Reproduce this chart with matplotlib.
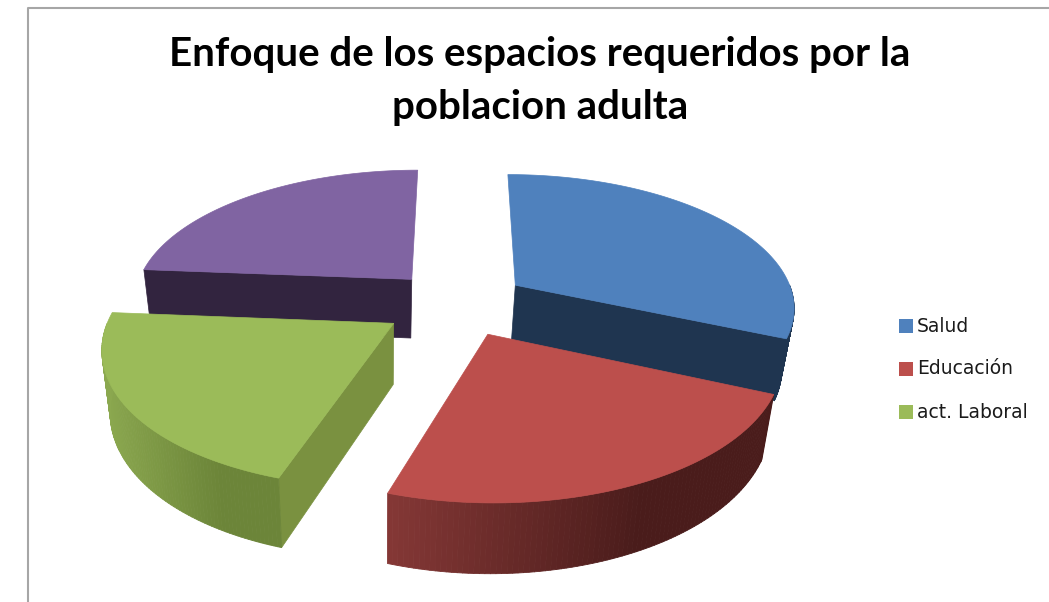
import numpy as np
import matplotlib
matplotlib.use("Agg")
import matplotlib.pyplot as plt
from matplotlib.collections import PolyCollection
from matplotlib.patches import Polygon, Rectangle
from matplotlib.colors import to_rgb

title = "Enfoque de los espacios requeridos por la\npoblacion adulta"
labels = ["Salud", "Educación", "act. Laboral"]
values = [31.5, 23.5, 21.25, 23.75]
explode = [0.25, 0.25, 0.27, 0.25]
top_colors = ["#4F81BD", "#BC4F4C", "#9BBB59", "#8064A2"]
face_colors = ["#1F3550", "#4A1C1B", "#7A9140", "#32243F"]
rim_left = ["#1F3550", "#853836", "#8BA84F", "#32243F"]
rim_right = ["#1F3550", "#4A1C1B", "#6C8539", "#32243F"]

# pie geometry in pixels
CX, CY = 458, 303
R = 280
TILT = 0.473
PERSP = 0.152
DEPTH = 60
LEAN_X = 380
LEAN = 0.03


def project(u, v, z=0.0):
    u, v = np.asarray(u, float), np.asarray(v, float)
    s = 1.0 / (1.0 + PERSP * v)
    x = CX + R * u * s
    x = x + (LEAN_X - x) * LEAN * z / DEPTH
    return x, CY - R * TILT * v * s + z * s ** 0.8


def arc(a0, a1, ou, ov, z=0.0, n=90):
    t = np.radians(np.linspace(a0, a1, n))
    return np.column_stack(project(ou + np.sin(t), ov + np.cos(t), z))


def draw_slice(ax, a0, a1, i):
    mid = np.radians((a0 + a1) / 2)
    ou, ov = explode[i] * np.sin(mid), explode[i] * np.cos(mid)
    apex = project(ou, ov)
    apex_low = project(ou, ov, DEPTH)

    # flat cut faces
    for a, vis in ((a0, np.sin(np.radians(a0)) < -1e-6), (a1, np.sin(np.radians(a1)) > 1e-6)):
        if vis:
            t = np.radians(a)
            p = project(ou + np.sin(t), ov + np.cos(t))
            q = project(ou + np.sin(t), ov + np.cos(t), DEPTH)
            ax.add_patch(Polygon([apex, p, q, apex_low], fc=face_colors[i], ec=face_colors[i], lw=0.5))

    # outer rim, shaded from left to right
    r0, r1 = max(a0, 90), min(a1, 270)
    if r1 > r0:
        up = arc(r0, r1, ou, ov)
        lo = arc(r0, r1, ou, ov, DEPTH)
        quads, cols = [], []
        xmin, xmax = up[:, 0].min(), up[:, 0].max()
        c0, c1 = np.array(to_rgb(rim_left[i])), np.array(to_rgb(rim_right[i]))
        for k in range(len(up) - 1):
            quads.append([up[k], up[k + 1], lo[k + 1], lo[k]])
            f = (up[k, 0] - xmin) / (xmax - xmin)
            cols.append(c0 + (c1 - c0) * min(f * 1.5, 1))
        ax.add_collection(PolyCollection(quads, facecolors=cols, edgecolors=cols, linewidths=0.6))

    # top surface
    pts = np.vstack([[apex], arc(a0, a1, ou, ov)])
    ax.add_patch(Polygon(pts, fc=top_colors[i], ec=top_colors[i], lw=0.5))


fig = plt.figure(figsize=(10.49, 6.02), dpi=100)
ax = fig.add_axes([0, 0, 1, 1])
ax.set_xlim(0, 1049)
ax.set_ylim(602, 0)
ax.axis("off")

# chart frame
ax.plot([27.5, 27.5, 1049], [602, 7.5, 7.5], color="#A6A6A6", lw=1.5)

ends = np.cumsum(values) / np.sum(values) * 360
starts = np.concatenate([[0], ends[:-1]])
# far slices first
order = sorted(range(len(values)), key=lambda i: -np.cos(np.radians((starts[i] + ends[i]) / 2)))
for i in order:
    draw_slice(ax, starts[i], ends[i], i)

ax.text(540, 81, title, ha="center", va="center", fontsize=29, fontweight="bold",
        family="Lato", color="black", linespacing=1.55)

for i, lab in enumerate(labels):
    y = 326 + i * 43
    ax.add_patch(Rectangle((898.5, y - 7), 14, 14, fc=top_colors[i], ec="none"))
    ax.text(917, y, lab, ha="left", va="center", fontsize=13.5, family="DejaVu Sans", color="#1a1a1a")

fig.savefig("out.png", dpi=100)
